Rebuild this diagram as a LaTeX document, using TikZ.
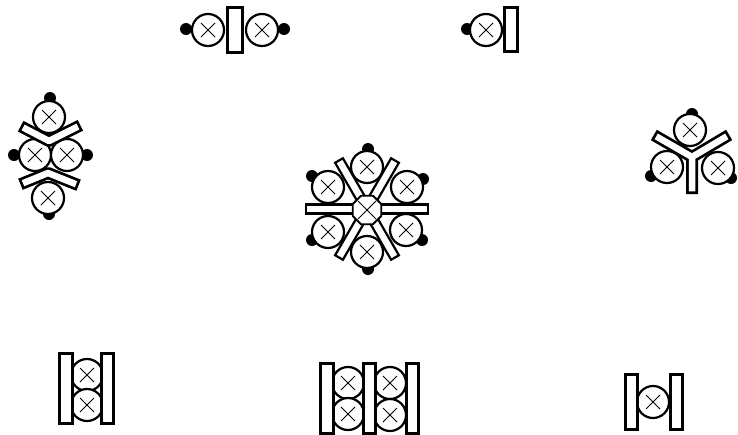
\documentclass[tikz,border=0pt]{standalone}
\usepackage{xcolor}
\usetikzlibrary{shapes.geometric}
\tikzset{
  roller/.style={circle, draw, fill=white, line width=2.2pt, inner sep=0pt, minimum size=#1,
    path picture={\draw[line width=0.8pt] (path picture bounding box.center) ++(-7pt,-7pt) -- ++(14pt,14pt)
      (path picture bounding box.center) ++(-7pt,7pt) -- ++(14pt,-14pt);}},
  roller/.default=32pt,
  hub/.style={regular polygon, regular polygon sides=8, draw, fill=white, line width=1.8pt, inner sep=0pt, minimum size=31pt,
    path picture={\draw[line width=0.8pt] (path picture bounding box.center) ++(-9pt,-9pt) -- ++(18pt,18pt)
      (path picture bounding box.center) ++(-9pt,9pt) -- ++(18pt,-18pt);}},
  contact/.style={circle, fill=black, inner sep=0pt, minimum size=12pt},
  plate/.style={rectangle, draw, fill=white, line width=3pt, inner sep=0pt},
  yoke/.style={white, line width=6.5pt, line cap=rect, line join=round,
    preaction={draw, black, line width=12pt, line cap=rect, line join=round}}
}
\begin{document}
\begin{tikzpicture}[x=1pt, y=-1pt]
  \useasboundingbox (0,0) rectangle (738,434);
  % top row
  \foreach \n/\x/\y in {a/186/29, b/284/29, c/467/29} \node[contact] (dot\n) at (\x,\y) {};
  \foreach \n/\x/\y in {a/208/30, b/262/30, c/486/30} \node[roller] (roll\n) at (\x,\y) {};
  \node[plate, minimum width=15pt, minimum height=45pt] (platea) at (235,30) {};
  \node[plate, minimum width=13pt, minimum height=44pt] (plateb) at (511,29) {};

  % left group
  \foreach \n/\x/\y in {d/50/98, e/14/155, f/87/155, g/49/214} \node[contact] (dot\n) at (\x,\y) {};
  \foreach \n/\x/\y in {d/49/117, e/35/155, f/67/155, g/48/198} \node[roller] (roll\n) at (\x,\y) {};
  \draw[yoke] (26,129) -- (49,141) -- (75,128);
  \draw[yoke] (26,182) -- (48,173) -- (73,183);

  % centre group
  \foreach \n/\x/\y in {h/368/149, i/312/176, j/423/179, k/312/240, l/422/240, m/368/269} \node[contact] (dot\n) at (\x,\y) {};
  \foreach \n/\x/\y in {h/367/167, i/328/187, j/407/187, k/328/232, l/406/230, m/367/252} \node[roller] (roll\n) at (\x,\y) {};
  \foreach \n/\a/\l in {c/0/122, d/60/112, e/120/112}
    \node[plate, line width=2.2pt, minimum width=\l pt, minimum height=9pt, rotate=\a] (plate\n) at (367,209) {};
  \node[hub] (hubc) at (367,210) {};

  % right group
  \foreach \n/\x/\y in {n/692/114, o/651/176, p/731/178} \node[contact] (dot\n) at (\x,\y) {};
  \foreach \n/\x/\y in {n/690/130, o/667/167, p/718/168} \node[roller] (roll\n) at (\x,\y) {};
  \draw[yoke] (659,138) -- (692,157) -- (724,138) (692,157) -- (692,188);

  % bottom row
  \foreach \n/\x/\y in {q/87/375, r/87/405, s/348/383, t/348/414, u/390/383, v/390/415, w/653/402} \node[roller] (roll\n) at (\x,\y) {};
  \foreach \n/\x/\y/\w/\h in {f/66/388/13/70, g/107/388/12/70, h/327/398/13/70, i/369/398/12/70, j/412/398/12/70, k/631/402/12/55, l/676/402/12/55}
    \node[plate, minimum width=\w pt, minimum height=\h pt] (plate\n) at (\x,\y) {};
\end{tikzpicture}
\end{document}
